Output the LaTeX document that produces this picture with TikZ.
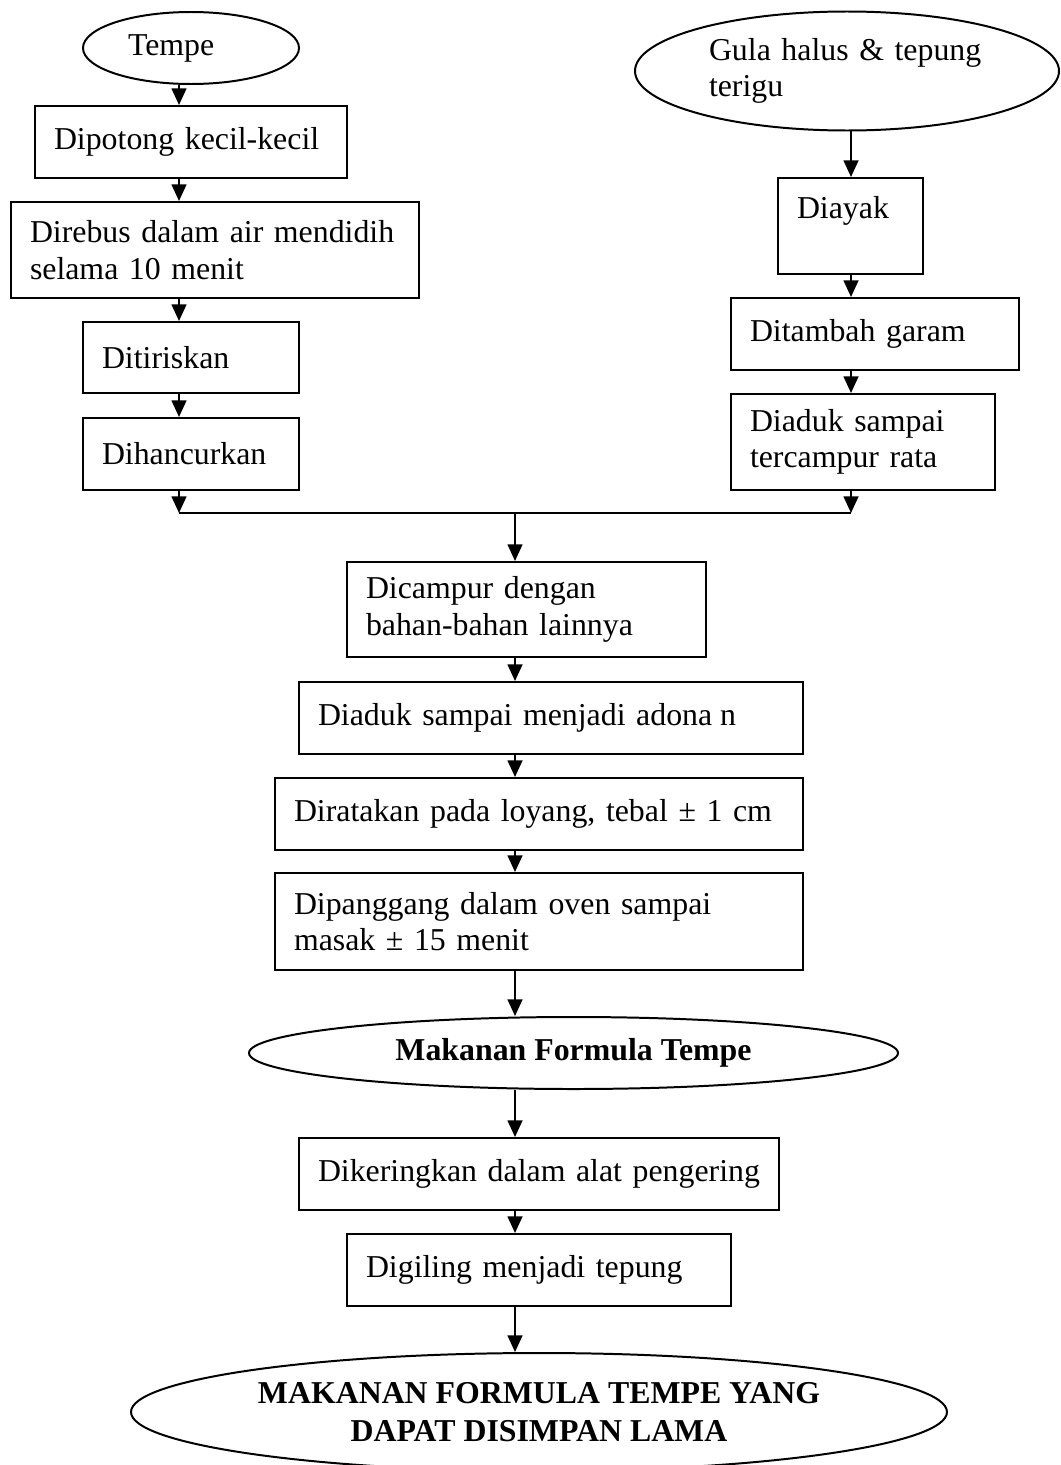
\documentclass[tikz,border=0pt]{standalone}
\usepackage{fontspec}
\setmainfont{Liberation Serif}
\usetikzlibrary{shapes.geometric,arrows.meta}
\newlength{\px}
\setlength{\px}{0.377pt}

\begin{document}
\begin{tikzpicture}[x=0.377pt, y=-0.377pt,
  kotak/.style={draw, line width=0.75pt, rectangle, inner xsep=19\px, inner ysep=0pt, align=left,
    font=\fontsize{12pt}{13.8pt}\selectfont},
  bulat/.style={draw, line width=0.75pt, ellipse, inner sep=0pt,
    font=\fontsize{12pt}{13.8pt}\selectfont},
  tebal/.style={font=\fontsize{12pt}{14.2pt}\selectfont\bfseries},
  panah/.style={line width=0.75pt, -{Triangle[length=6.3pt,width=5.6pt]}},
  garis/.style={line width=0.75pt}]

  \useasboundingbox (0,0) rectangle (1060,1465);

  \coordinate (kiri) at (179,0);
  \coordinate (kanan) at (851,0);
  \coordinate (tengah) at (515,0);
  \coordinate (gabung) at (515,513);

  \node[bulat, minimum width=216*\px, minimum height=72*\px, text width=126\px, align=left] (tempe) at (191,48) {Tempe};
  \node[bulat, minimum width=424*\px, minimum height=119*\px, text width=276\px, align=left] (gula) at (847,71) {Gula halus \& tepung\\terigu};

  \foreach \nama/\cx/\cy/\lebar/\tinggi/\isi in {
      potong/191/142/312/72/{Dipotong kecil-kecil},
      rebus/215/250/408/96/{Direbus dalam air mendidih\\selama 10 menit},
      tiris/191/357.5/216/71/{Ditiriskan},
      hancur/191/454/216/72/{Dihancurkan},
      ayak/850.5/226/145/96/{Diayak\\\mbox{}},
      garam/875/334/288/72/{Ditambah\hspace{4pt}garam},
      aduk/863/442/264/96/{Diaduk sampai\\tercampur rata},
      campur/526.5/609.5/359/95/{Dicampur dengan\\bahan-bahan lainnya},
      adonan/551/718/504/72/{Diaduk sampai menjadi adona\hspace{3pt}n},
      ratakan/539/814/528/72/{Diratakan pada loyang, tebal ± 1 cm},
      panggang/539/921.5/528/97/{Dipanggang dalam oven sampai\\masak ± 15 menit},
      kering/539/1174/480/72/{Dikeringkan dalam alat pengering},
      giling/539/1270/384/72/{Digiling menjadi tepung}} {
    \pgfmathsetlengthmacro{\tw}{(\lebar-38)*\px}
    \node[kotak, text width=\tw, minimum height=\tinggi*\px] (\nama) at (\cx,\cy) {\isi};
  }

  \node[bulat, tebal, minimum width=649*\px, minimum height=72*\px] (formula) at (573.5,1053) {Makanan Formula Tempe};
  \node[bulat, tebal, minimum width=816*\px, minimum height=118*\px, align=center] (akhir) at (539,1412)
    {MAKANAN FORMULA TEMPE YANG\\DAPAT DISIMPAN LAMA};

  \foreach \a/\b in {tempe/potong, potong/rebus, rebus/tiris, tiris/hancur}
    \draw[panah] (\a.south -| kiri) -- (\b.north -| kiri);
  \foreach \a/\b in {gula/ayak, ayak/garam, garam/aduk}
    \draw[panah] (\a.south -| kanan) -- (\b.north -| kanan);
  \foreach \a/\b in {campur/adonan, adonan/ratakan, ratakan/panggang, panggang/formula,
      formula/kering, kering/giling, giling/akhir}
    \draw[panah] (\a.south -| tengah) -- (\b.north -| tengah);

  \draw[panah] (hancur.south -| kiri) -- (gabung -| kiri);
  \draw[panah] (aduk.south -| kanan) -- (gabung -| kanan);
  \draw[garis] (gabung -| kiri) -- (gabung -| kanan);
  \draw[panah] (gabung) -- (campur.north -| gabung);
\end{tikzpicture}
\end{document}
